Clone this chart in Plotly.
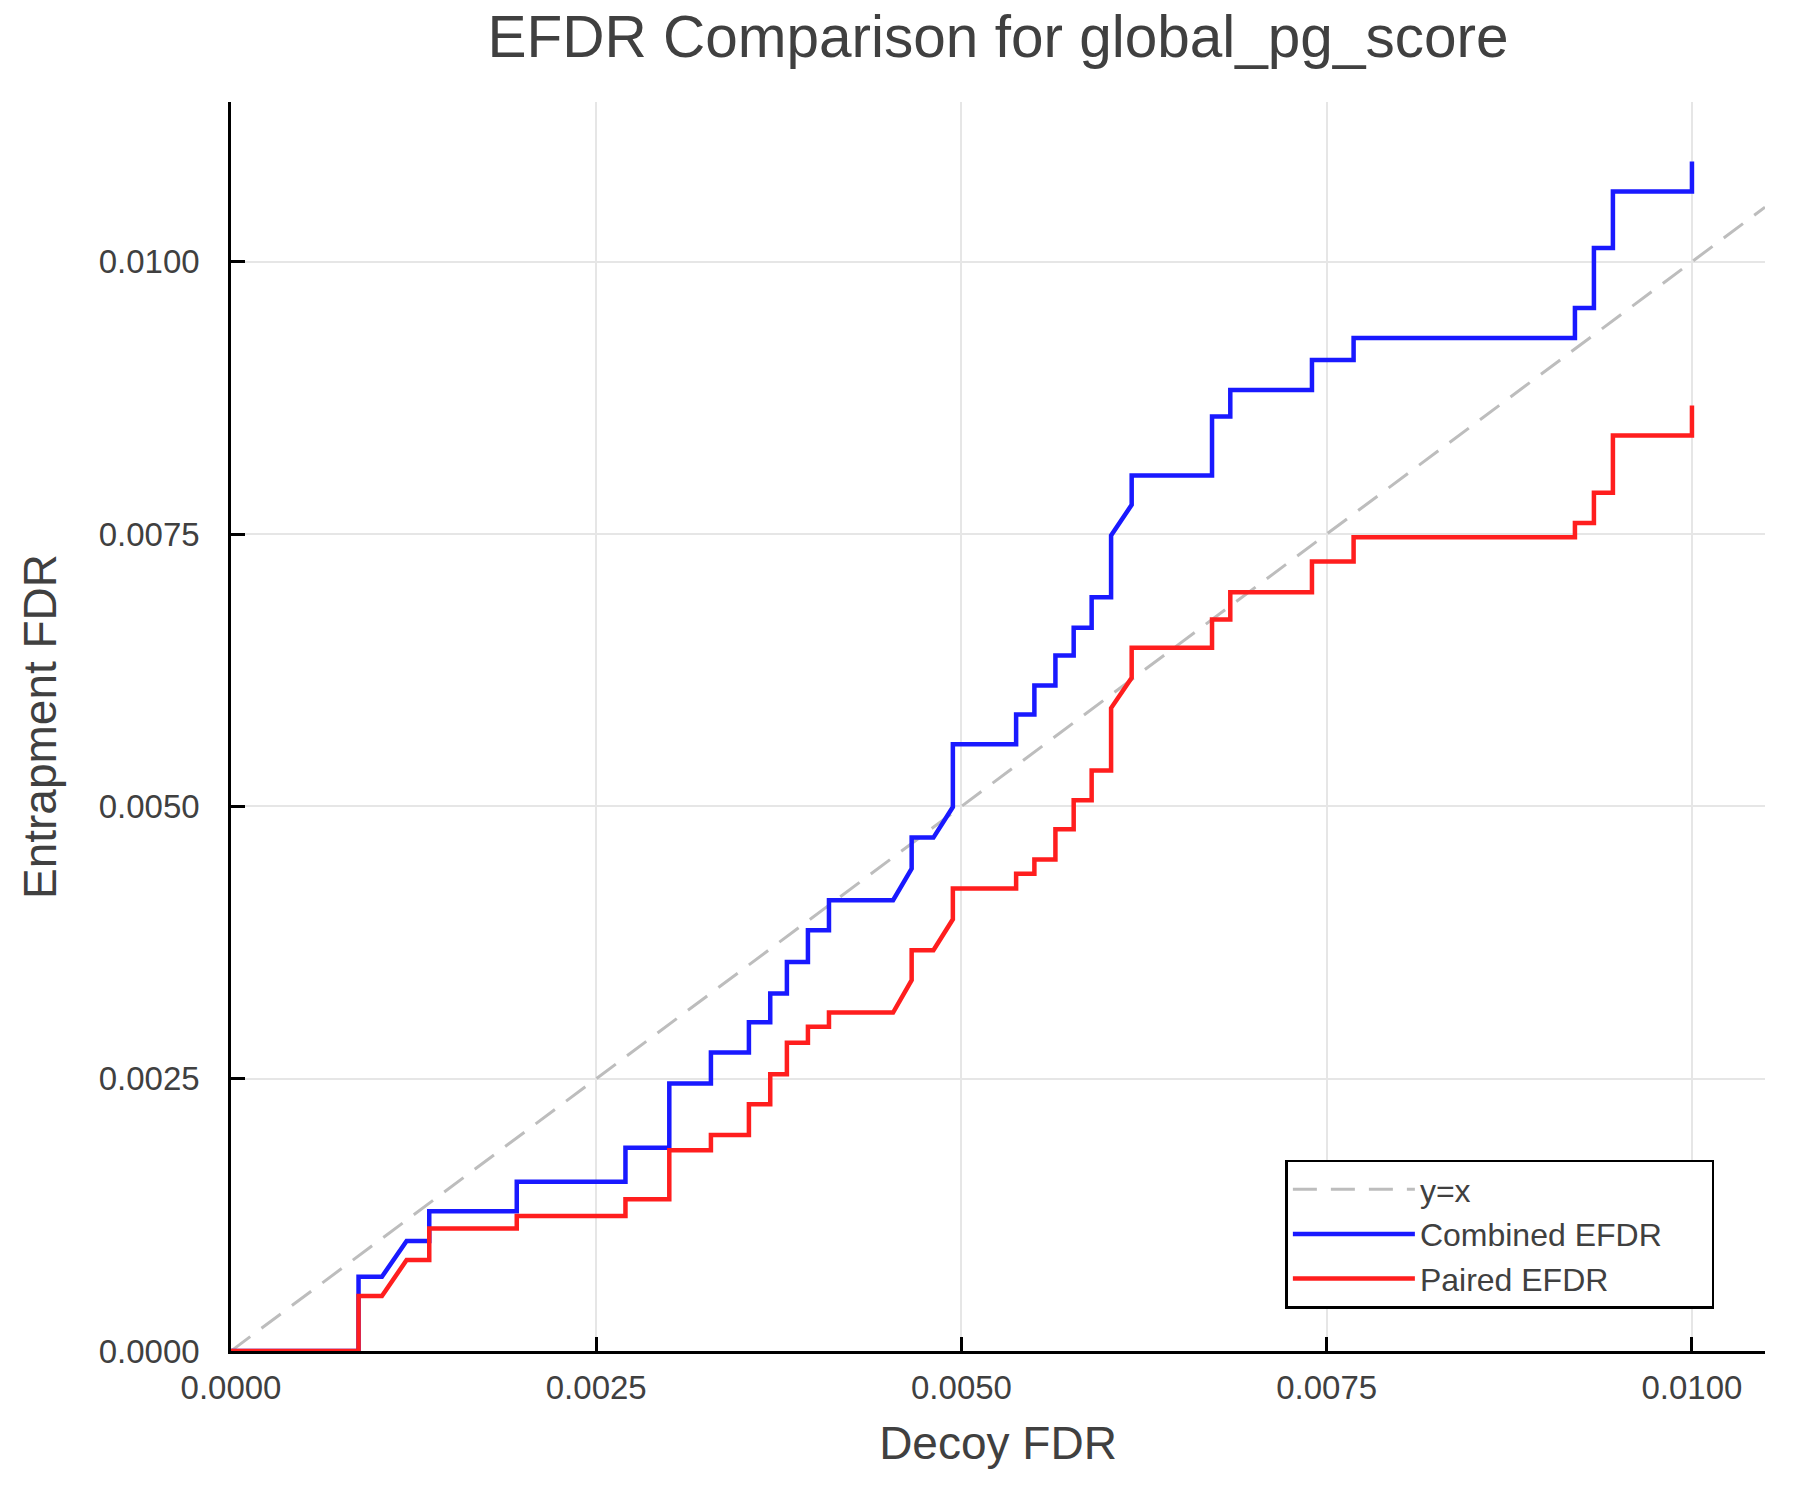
import plotly.graph_objects as go

# Step-curve vertices (shared decoy FDR grid)
decoy_fdr = [
    0.0, 0.000873, 0.000873, 0.001033, 0.001202, 0.001357, 0.001357, 0.001956,
    0.001956, 0.0027, 0.0027, 0.003, 0.003, 0.003285, 0.003285, 0.003545,
    0.003545, 0.003691, 0.003691, 0.003805, 0.003805, 0.003949, 0.003949, 0.004093,
    0.004093, 0.004532, 0.004659, 0.004659, 0.004808, 0.004941, 0.004941, 0.005374,
    0.005374, 0.005499, 0.005499, 0.005643, 0.005643, 0.005768, 0.005768, 0.005891,
    0.005891, 0.006024, 0.006024, 0.006165, 0.006165, 0.006715, 0.006715, 0.00684,
    0.00684, 0.007399, 0.007399, 0.007684, 0.007684, 0.009199, 0.009199, 0.009329,
    0.009329, 0.009459, 0.009459, 0.01, 0.01,
]
combined_efdr = [
    0.0, 0.0, 0.000682, 0.000682, 0.001009, 0.001009, 0.001284, 0.001284,
    0.001554, 0.001554, 0.001865, 0.001865, 0.002456, 0.002456, 0.00274, 0.00274,
    0.003018, 0.003018, 0.003281, 0.003281, 0.003572, 0.003572, 0.003862, 0.003862,
    0.004138, 0.004138, 0.004428, 0.004713, 0.004713, 0.004994, 0.005569, 0.005569,
    0.005844, 0.005844, 0.00611, 0.00611, 0.006385, 0.006385, 0.006639, 0.006639,
    0.00692, 0.00692, 0.007486, 0.007768, 0.008037, 0.008037, 0.008578, 0.008578,
    0.008823, 0.008823, 0.009098, 0.009098, 0.0093, 0.0093, 0.009575, 0.009575,
    0.010125, 0.010125, 0.010645, 0.010645, 0.01092,
]
paired_efdr = [
    0.0, 0.0, 0.000505, 0.000505, 0.000835, 0.000835, 0.001125, 0.001125,
    0.001239, 0.001239, 0.001394, 0.001394, 0.001844, 0.001844, 0.001982, 0.001982,
    0.002266, 0.002266, 0.002541, 0.002541, 0.002829, 0.002829, 0.002976, 0.002976,
    0.003107, 0.003107, 0.003404, 0.003679, 0.003679, 0.003963, 0.004245, 0.004245,
    0.004382, 0.004382, 0.004511, 0.004511, 0.004789, 0.004789, 0.005055, 0.005055,
    0.00533, 0.00533, 0.005902, 0.00618, 0.006456, 0.006456, 0.006716, 0.006716,
    0.006966, 0.006966, 0.007248, 0.007248, 0.007471, 0.007471, 0.007602, 0.007602,
    0.007878, 0.007878, 0.008404, 0.008404, 0.008679,
]
tick_vals = [0.0, 0.0025, 0.005, 0.0075, 0.01]
series_names = ["y=x", "Combined EFDR", "Paired EFDR"]

x_max = 1.05 * max(decoy_fdr)
y_max = 1.05 * max(combined_efdr)

FONT = "Liberation Sans"
TEXT = "#404040"
PAD = "\u00a0" * 5  # widens the legend box a little, like the reference

fig = go.Figure()
fig.add_trace(
    go.Scatter(
        x=[0, x_max],
        y=[0, x_max],
        mode="lines",
        name=series_names[0] + PAD,
        line={"color": "#bdbdbd", "width": 3, "dash": "24px,14px"},
    )
)
fig.add_trace(
    go.Scatter(
        x=decoy_fdr,
        y=combined_efdr,
        mode="lines",
        name=series_names[1] + PAD,
        line={"color": "rgb(25,25,255)", "width": 4.5},
    )
)
fig.add_trace(
    go.Scatter(
        x=decoy_fdr,
        y=paired_efdr,
        mode="lines",
        name=series_names[2] + PAD,
        line={"color": "rgb(255,30,30)", "width": 4.5},
    )
)

axis_style = dict(
    tickvals=tick_vals,
    tickformat=".4f",
    showgrid=True,
    gridcolor="#e6e6e6",
    gridwidth=1.5,
    zeroline=False,
    showline=True,
    linecolor="black",
    linewidth=2.5,
    mirror=False,
    ticks="inside",
    ticklen=14,
    tickwidth=2.5,
    tickcolor="black",
    tickfont={"family": FONT, "size": 33, "color": TEXT},
)

fig.update_layout(
    width=1800,
    height=1500,
    paper_bgcolor="white",
    plot_bgcolor="white",
    # the page body adds 8px, so the margins are shifted to compensate
    margin={"l": 223, "r": 43, "t": 94, "b": 157},
    font={"family": FONT, "color": TEXT},
    title={
        "text": "EFDR Comparison for global_pg_score",
        "x": 0.5,
        "xref": "paper",
        "xanchor": "center",
        "y": 0.981,
        "yanchor": "middle",
        "font": {"family": FONT, "size": 58.5, "color": TEXT},
    },
    xaxis=dict(
        axis_style,
        range=[0, x_max],
        ticklabelstandoff=6,
        title={"text": "Decoy FDR", "font": {"family": FONT, "size": 46, "color": TEXT}, "standoff": 22},
    ),
    yaxis=dict(
        axis_style,
        range=[0, y_max],
        ticklabelstandoff=22,
        title={"text": "Entrapment FDR", "font": {"family": FONT, "size": 46, "color": TEXT}, "standoff": 28},
    ),
    legend={
        "x": 0.967,
        "y": 0.034,
        "xanchor": "right",
        "yanchor": "bottom",
        "bgcolor": "white",
        "bordercolor": "black",
        "borderwidth": 2.5,
        "itemwidth": 122,
        "font": {"family": FONT, "size": 32, "color": TEXT},
        "tracegroupgap": 0,
    },
)

fig.write_html("out.html")
